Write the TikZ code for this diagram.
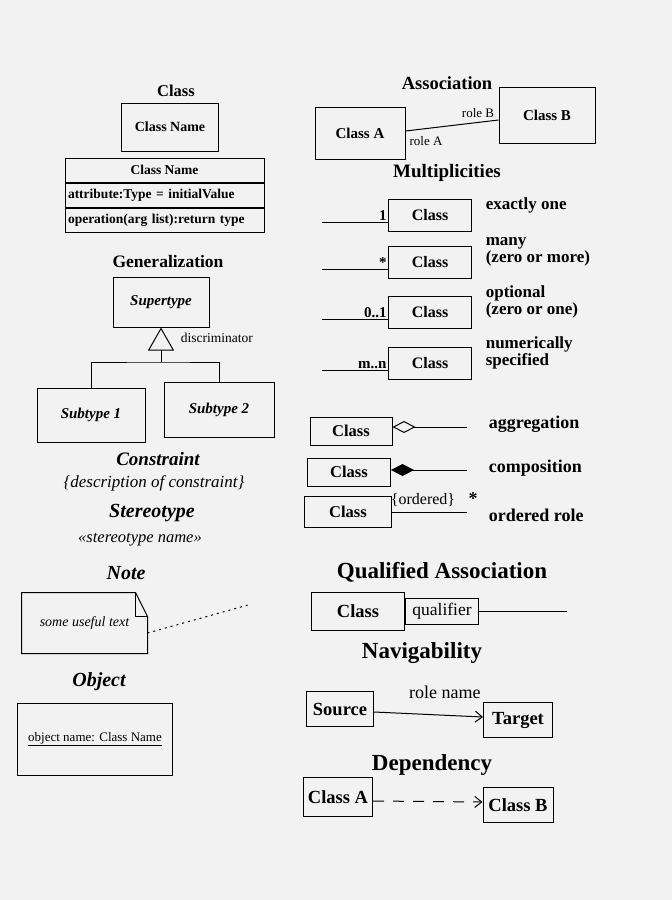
\documentclass[tikz,border=0pt]{standalone}
\usepackage{fontspec}
\setmainfont{Liberation Serif}
\usetikzlibrary{arrows.meta,positioning,calc}
\newcommand\fsz[2][1.15]{\fontsize{#2pt}{#1\dimexpr #2pt\relax}\selectfont}
\definecolor{paper}{gray}{0.95}

\begin{document}
\begin{tikzpicture}[
  x=1pt,y=-1pt,
  line width=1pt,
  ttl/.style={font=\bfseries\fsz{#1}},
  ttl/.default=17,
  ittl/.style={font=\bfseries\itshape\fsz{#1}},
  ittl/.default=19,
  bigttl/.style={font=\bfseries\fsz{23}},
  box/.style={draw,inner sep=2pt,align=center},
  cls/.style={box,font=\bfseries\fsz{#1}},
  cls/.default=16,
  gen/.style={box,font=\bfseries\itshape\fsz{15}},
  cmp/.style={box,font=\bfseries\fsz{13.5},minimum height=24pt,inner sep=3pt},
  lab/.style={font=\fsz{#1}},
  lab/.default=13,
  desc/.style={font=\bfseries\fsz[0.8]{17},align=left,anchor=west},
  navarrow/.style={-{Straight Barb[length=7pt,width=11pt]}}
]
\useasboundingbox (0,0) rectangle (672,900);
\fill[paper] (0,0) rectangle (672,900);

% class
\node[ttl=16.5] (tclass) at (176,91) {Class};
\node[cls=14,minimum width=97pt,minimum height=48pt] (cname) at (170,127) {Class Name};
\node[cmp,minimum width=199pt] (c1) at (164.5,170) {Class Name};
\node[cmp,text width=193pt,align=left,below=0pt of c1] (c2) {attribute:Type = initialValue};
\node[cmp,text width=193pt,align=left,below=0pt of c2] (c3) {operation(arg list):return type};

% generalization
\node[ttl=17.5] (tgen) at (168,262) {Generalization};
\node[gen,minimum width=96pt,minimum height=50pt] (super) at (161,302) {Supertype};
\node[gen,minimum width=108pt,minimum height=54pt] (sub1) at (91,415) {Subtype 1};
\node[gen,minimum width=110pt,minimum height=55pt] (sub2) at (219,410) {Subtype 2};
\coordinate (gbar) at (161,362);
\draw (sub1.north) |- (gbar) -| (sub2.north);
\draw[-{Triangle[open,length=23pt,width=26pt]}] (gbar) -- (super.south);
\node[lab=13.5,anchor=west] (disc) at (177,338) {discriminator};

% constraint, stereotype
\node[ittl=19] (tcons) at (158,459) {Constraint};
\node[font=\itshape\fsz{17}] (dcons) at (154,483) {\{description of constraint\}};
\node[ittl=20] (tster) at (152,513) {Stereotype};
\node[font=\itshape\fsz{16.5}] (dster) at (140,540) {«stereotype name»};

% note
\node[ittl=20] (tnote) at (126,573) {Note};
\node[font=\itshape\fsz{14},minimum width=125pt,minimum height=60pt] (note) at (84.5,623) {some useful text};
\draw (note.north west) -- ($(note.north east)+(-12,0)$) -- ($(note.north east)+(0,24)$)
  -- (note.south east) -- (note.south west) -- cycle;
\draw ($(note.north east)+(-12,0)$) |- ($(note.north east)+(0,24)$);
\coordinate (noteend) at (248,605);
\draw[dash pattern=on 2pt off 4pt] ([yshift=-10pt]note.east) -- (noteend);

% object
\node[ittl=20] (tobj) at (99,682) {Object};
\node[box,font=\fsz{13},minimum width=155pt,minimum height=72pt] (obj) at (95,739) {\underline{object name: Class Name}};

% association
\node[ttl=18.5] (tassoc) at (447,83) {Association};
\node[cls=15,minimum width=90pt,minimum height=52pt] (ca) at (360,133) {Class A};
\node[cls=15,minimum width=96pt,minimum height=56pt] (cb) at (547,115) {Class B};
\draw ([yshift=2pt]ca.east) -- ([yshift=-5pt]cb.west);
\node[lab] (rb) at (478,113) {role B};
\node[lab] (ra) at (426,141) {role A};

% multiplicities
\node[ttl=19] (tmult) at (447,173) {Multiplicities};
\foreach \n/\yy/\mult/\txt in {1/215/1/{exactly one},2/262/{*}/{many\\(zero or more)},
    3/312/{0..1}/{optional\\(zero or one)},4/363/{m..n}/{numerically\\specified}}{
  \node[cls,minimum width=83pt,minimum height=32pt] (mc\n) at (430,\yy) {Class};
  \coordinate (ml\n) at (322,\yy+7);
  \draw (ml\n) -- (ml\n -| mc\n.west);
  \node[font=\bfseries\fsz{15},anchor=south east,inner sep=1pt] (mm\n) at (ml\n -| mc\n.west) {\mult};
  \node[desc] (md\n) at ($(mc\n.east)+(10,-10)$) {\txt};
}

% aggregation, composition, ordered role
\node[cls=16.5,minimum width=82pt,minimum height=28pt] (agg) at (351,431) {Class};
\coordinate (aggend) at (467,427);
\draw[{Diamond[open,length=23pt,width=12pt]}-] ([yshift=4pt]agg.east) -- (aggend);
\node[desc,font=\bfseries\fsz{18}] (dagg) at (485,424) {aggregation};

\node[cls=16.5,minimum width=83pt,minimum height=28pt] (comp) at (349,472) {Class};
\coordinate (compend) at (467,470);
\draw[{Diamond[length=23pt,width=12pt]}-] ([yshift=2pt]comp.east) -- (compend);
\node[desc,font=\bfseries\fsz{18}] (dcomp) at (485,468) {composition};

\node[cls=16.5,minimum width=87pt,minimum height=31pt] (ord) at (348,512) {Class};
\coordinate (ordend) at (467,512);
\draw (ord.east) -- (ordend);
\node[lab=16] (ordlab) at (423,500) {\{ordered\}};
\node[font=\bfseries\fsz{18}] (ordstar) at (473,499) {*};
\node[desc,font=\bfseries\fsz{18}] (dord) at (485,515) {ordered role};

% qualified association
\node[bigttl] (tqual) at (442,572) {Qualified Association};
\node[cls=18.5,minimum width=93pt,minimum height=38pt] (qc) at (358,611) {Class};
\node[box,font=\fsz{17.5},minimum width=73pt,minimum height=26pt,anchor=west] (qual) at (qc.east) {qualifier};
\coordinate (qend) at (567,611);
\draw (qual.east) -- (qend);

% navigability
\node[bigttl] (tnav) at (422,653) {Navigability};
\node[cls=18.5,minimum width=67pt,minimum height=35pt] (src) at (340,709) {Source};
\node[cls=18.5,minimum width=69pt,minimum height=35pt] (tgt) at (518,720) {Target};
\draw[navarrow] ([yshift=-3pt]src.east) -- node[pos=0.65,above=13pt,font=\fsz{18}] (rname) {role name} ([yshift=3pt]tgt.west);

% dependency
\node[bigttl] (tdep) at (432,765) {Dependency};
\node[cls=18.5,minimum width=69pt,minimum height=39pt] (da) at (338,797) {Class A};
\node[cls=18.5,minimum width=70pt,minimum height=35pt] (db) at (518,805) {Class B};
\draw[navarrow,dash pattern=on 11pt off 9pt] ([yshift=-4pt]da.east) -- ([yshift=3pt]db.west);
\end{tikzpicture}
\end{document}
